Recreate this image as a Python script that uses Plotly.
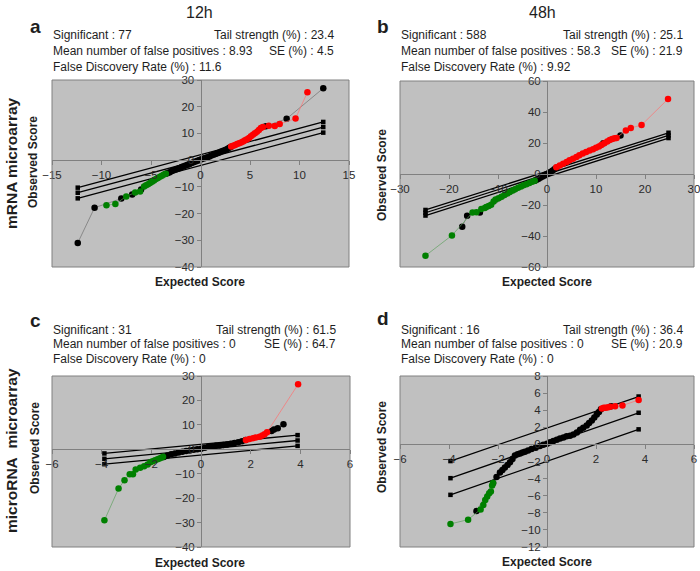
import plotly.graph_objects as go

W, H = 700, 571

# ---- panel a : mRNA 12h ----
a_black_x = [-12.4, -10.7, -8.0, -6.9, -6.0,
             -3.5, -3.3, -3.1, -2.9, -2.7, -2.5, -2.3, -2.1, -1.9, -1.7, -1.5, -1.3, -1.1, -0.9, -0.7, -0.5, -0.3, -0.1,
             0.1, 0.3, 0.5, 0.7, 0.9, 1.1, 1.3, 1.5, 1.7, 1.9, 2.1, 2.3, 2.5, 2.7, 2.9, 3.1,
             6.6, 8.7, 12.4]
a_black_y = [-31.0, -17.8, -14.4, -12.9, -11.0,
             -5.1, -4.8, -4.5, -4.1, -3.8, -3.5, -3.2, -2.9, -2.6, -2.3, -2.0, -1.7, -1.4, -1.1, -0.8, -0.5, -0.2, 0.1,
             0.3, 0.6, 0.8, 1.1, 1.4, 1.7, 2.0, 2.3, 2.6, 2.9, 3.2, 3.5, 3.8, 4.2, 4.6, 5.0,
             12.7, 15.5, 26.9]
a_green_x = [-9.5, -8.6, -7.5, -6.6, -6.1, -5.7, -5.5, -5.3, -5.1, -4.9, -4.7, -4.5, -4.3, -4.1, -3.9, -3.7, -3.5]
a_green_y = [-16.9, -16.4, -13.6, -12.1, -11.7, -9.9, -9.4, -9.0, -8.6, -8.1, -7.6, -7.1, -6.7, -6.2, -5.8, -5.4, -5.1]
a_red_x = [3.1, 3.3, 3.5, 3.7, 3.9, 4.1, 4.3, 4.5, 4.7, 4.9, 5.1, 5.3, 5.5, 5.7, 5.9, 6.1, 6.3, 6.9, 7.5, 8.0, 9.6, 10.8]
a_red_y = [5.1, 5.4, 5.7, 6.0, 6.3, 6.6, 7.0, 7.4, 7.8, 8.3, 8.9, 9.5, 10.1, 10.6, 11.3, 12.0, 12.4, 12.9, 12.8, 13.5, 15.6, 25.4]
a_delta_x = [-12.4, 12.4]
a_delta_upper = [-10.3, 14.3]
a_delta_mid = [-12.2, 12.4]
a_delta_lower = [-14.3, 10.3]

# ---- panel b : mRNA 48h ----
b_black_x = [-17.3, -16.3, -13.7, -2.5, -2.1, -1.7, -1.3, -0.9, -0.5, -0.1, 0.3, 0.7, 1.1, 1.5, 1.9, 11.5, 15.0]
b_black_y = [-34.1, -27.0, -24.8, -4.4, -3.7, -3.0, -2.3, -1.6, -0.9, -0.2, 0.5, 1.3, 2.1, 3.0, 4.0, 19.8, 24.8]
b_green_x = [-24.8, -19.4, -15.2, -14.4, -13.4, -12.7, -12.4, -11.9, -11.4, -10.9, -10.5, -9.9, -9.3, -8.7,
             -8.1, -7.6, -7.0, -6.5, -5.9, -5.3, -4.8, -4.2, -3.6, -3.0, -2.5]
b_green_y = [-52.7, -39.6, -24.8, -24.6, -22.6, -22.0, -21.3, -20.6, -19.8, -17.8, -16.5, -15.6, -14.7, -13.5,
             -12.5, -11.6, -10.6, -9.8, -8.8, -8.0, -7.3, -6.6, -5.8, -5.0, -4.4]
b_red_x = [1.9, 2.6, 3.3, 4.0, 4.6, 5.3, 6.0, 6.6, 7.3, 8.0, 8.7, 9.4, 10.0, 10.6, 11.1, 11.7, 12.3, 12.8,
           13.3, 13.8, 14.2, 16.1, 17.1, 19.3, 24.7]
b_red_y = [4.4, 5.5, 6.6, 7.7, 8.8, 9.9, 11.0, 12.1, 13.2, 14.2, 15.1, 16.0, 17.0, 17.8, 18.7, 19.8, 21.0, 22.0,
           22.6, 23.1, 23.3, 28.1, 29.7, 31.6, 48.4]
b_delta_x = [-24.8, 24.8]
b_delta_upper = [-23.2, 26.6]
b_delta_mid = [-25.0, 24.9]
b_delta_lower = [-26.8, 23.2]

# ---- panel c : microRNA 12h ----
c_black_x = [-1.5, -1.35, -1.2, -1.05, -0.9, -0.75, -0.6, -0.45, -0.3, -0.15, 0.0, 0.15, 0.3, 0.45, 0.6, 0.75,
             0.9, 1.05, 1.2, 1.35, 1.5, 1.65, 1.8, 2.84, 2.94, 3.09, 3.32]
c_black_y = [-3.2, -2.5, -2.0, -1.7, -1.3, -1.0, -0.7, -0.45, -0.2, 0.0, 0.2, 0.6, 1.0, 1.25, 1.45, 1.6,
             1.8, 2.0, 2.3, 2.6, 2.9, 3.3, 3.8, 7.5, 8.1, 8.6, 10.2]
c_green_x = [-3.89, -3.32, -3.08, -2.87, -2.74, -2.63, -2.45, -2.29, -2.15, -2.04, -1.95, -1.85, -1.75, -1.67, -1.6, -1.53]
c_green_y = [-29.1, -16.1, -12.7, -10.2, -10.2, -8.3, -7.6, -6.9, -6.2, -5.3, -4.9, -4.5, -4.1, -3.8, -3.5, -3.1]
c_red_x = [1.81, 1.95, 2.09, 2.2, 2.36, 2.47, 2.56, 2.66, 3.91]
c_red_y = [3.8, 4.2, 4.5, 4.8, 5.1, 5.6, 6.2, 7.0, 26.6]
c_delta_x = [-3.89, 3.89]
c_delta_upper = [-1.7, 5.8]
c_delta_mid = [-3.9, 3.6]
c_delta_lower = [-6.1, 1.4]

# ---- panel d : microRNA 48h ----
d_black_x = [-2.88, -2.2, -2.06, -1.92, -1.82, -1.72, -1.61, -1.51, -1.41, -1.31, -1.2, -1.1, -1.0, -0.9,
             -0.77, -0.63, -0.46, -0.29, -0.15, 0.0, 0.13, 0.26, 0.4, 0.53, 0.67, 0.8, 0.94, 1.08, 1.22,
             1.35, 1.48, 1.62, 1.72, 1.83, 1.93, 2.03, 2.12, 2.2, 2.62]
d_black_y = [-7.8, -4.5, -3.8, -3.3, -3.0, -2.7, -2.4, -2.1, -1.7, -1.3, -1.15, -1.05, -0.95, -0.86,
             -0.7, -0.55, -0.38, -0.2, -0.05, 0.08, 0.25, 0.4, 0.55, 0.7, 0.82, 0.94, 1.0, 1.17, 1.4,
             1.7, 1.95, 2.2, 2.5, 2.8, 3.15, 3.5, 3.8, 4.1, 4.45]
d_green_x = [-3.94, -3.22, -2.71, -2.6, -2.52, -2.44, -2.36, -2.29, -2.24, -2.2]
d_green_y = [-9.3, -8.8, -7.6, -7.1, -6.5, -6.1, -5.7, -5.5, -4.8, -4.5]
d_red_x = [2.24, 2.32, 2.4, 2.5, 2.58, 2.78, 3.08, 3.74]
d_red_y = [4.2, 4.3, 4.3, 4.35, 4.4, 4.45, 4.55, 5.2]
d_delta_x = [-3.94, 3.74]
d_delta_upper = [-1.95, 5.6]
d_delta_mid = [-3.95, 3.7]
d_delta_lower = [-5.9, 1.76]

# stats text per panel
stats = {
    "a": ["Significant : 77", "Tail strength (%) : 23.4", "Mean number of false positives : 8.93", "SE (%) : 4.5",
          "False Discovery Rate (%) : 11.6"],
    "b": ["Significant : 588", "Tail strength (%) : 25.1", "Mean number of false positives : 58.3", "SE (%) : 21.9",
          "False Discovery Rate (%) : 9.92"],
    "c": ["Significant : 31", "Tail strength (%) : 61.5", "Mean number of false positives : 0", "SE (%) : 64.7",
          "False Discovery Rate (%) : 0"],
    "d": ["Significant : 16", "Tail strength (%) : 36.4", "Mean number of false positives : 0", "SE (%) : 20.9",
          "False Discovery Rate (%) : 0"],
}

fig = go.Figure()
TXT = "#1e1e1e"
AX = "#808080"


def ann(text, x, y, size=12, bold=False, xa="left", ya="middle", angle=0, family="Arial"):
    if bold:
        text = "<b>" + text + "</b>"
    fig.add_annotation(text=text, x=x / W, y=1 - y / H, xref="paper", yref="paper", showarrow=False,
                       xanchor=xa, yanchor=ya, textangle=angle,
                       font=dict(family=family, size=size, color=TXT))


def add_panel(i, box, xr, yr, dx, dy, dlx, dls, black, green, red):
    s = "" if i == 1 else str(i)
    left, top, right, bottom = box
    xdom = [left / W, right / W]
    ydom = [1 - bottom / H, 1 - top / H]
    xpos = xdom[0] + (0 - xr[0]) / (xr[1] - xr[0]) * (xdom[1] - xdom[0])
    ypos = ydom[0] + (0 - yr[0]) / (yr[1] - yr[0]) * (ydom[1] - ydom[0])
    common = dict(showgrid=False, zeroline=False, showline=True, linecolor=AX, linewidth=1,
                  ticks="outside", ticklen=4, tickcolor=AX, automargin=False, ticklabeloverflow="allow",
                  tickfont=dict(family="Arial", size=11.5, color="#2a2a2a"), fixedrange=True)
    fig.update_layout(**{
        "xaxis" + s: dict(domain=xdom, range=xr, dtick=dx, tick0=0, anchor="free", position=ypos, **common),
        "yaxis" + s: dict(domain=ydom, range=yr, dtick=dy, tick0=0, anchor="free", position=xpos, **common),
    })
    xa, ya = "x" + s, "y" + s
    for dl in dls:
        fig.add_trace(go.Scatter(x=dlx, y=dl, mode="lines+markers", xaxis=xa, yaxis=ya,
                                 line=dict(color="black", width=1.3),
                                 marker=dict(symbol="square", size=4.5, color="black")))
    for (sx, sy), mc, lc in [(black, "black", "#707070"), (green, "#008000", "#60a060"), (red, "#ff0000", "#ff7070")]:
        fig.add_trace(go.Scatter(x=sx, y=sy, mode="lines+markers", xaxis=xa, yaxis=ya,
                                 line=dict(color=lc, width=0.7),
                                 marker=dict(size=6.5, color=mc, line=dict(width=0))))
    fig.add_shape(type="rect", xref=xa + " domain", yref=ya + " domain", x0=0, x1=1, y0=0, y1=1,
                  line=dict(color=AX, width=1))


add_panel(1, (52, 80, 349, 267), [-15, 15], [-40, 30], 5, 10,
          a_delta_x, [a_delta_upper, a_delta_mid, a_delta_lower],
          (a_black_x, a_black_y), (a_green_x, a_green_y), (a_red_x, a_red_y))
add_panel(2, (400, 81, 694, 267), [-30, 30], [-60, 60], 10, 20,
          b_delta_x, [b_delta_upper, b_delta_mid, b_delta_lower],
          (b_black_x, b_black_y), (b_green_x, b_green_y), (b_red_x, b_red_y))
add_panel(3, (52, 376, 350, 547), [-6, 6], [-40, 30], 2, 10,
          c_delta_x, [c_delta_upper, c_delta_mid, c_delta_lower],
          (c_black_x, c_black_y), (c_green_x, c_green_y), (c_red_x, c_red_y))
add_panel(4, (400, 376, 694, 547), [-6, 6], [-12, 8], 2, 2,
          d_delta_x, [d_delta_upper, d_delta_mid, d_delta_lower],
          (d_black_x, d_black_y), (d_green_x, d_green_y), (d_red_x, d_red_y))

# stats blocks
for key, lx, rx, ys in [("a", 51, 336, (35, 51, 67)), ("b", 399, 685, (35, 51, 67)),
                        ("c", 51, 338, (330, 344, 359)), ("d", 399, 685, (330, 344, 359))]:
    t = stats[key]
    ann(t[0], lx, ys[0])
    ann(t[1], rx, ys[0], xa="right")
    ann(t[2], lx, ys[1])
    ann(t[3], rx, ys[1], xa="right")
    ann(t[4], lx, ys[2])

# panel letters and column titles
ann("a", 35, 26, size=19, bold=True, xa="center")
ann("b", 383, 27, size=19, bold=True, xa="center")
ann("c", 35, 320, size=19, bold=True, xa="center")
ann("d", 383, 318, size=19, bold=True, xa="center")
ann("12h", 199, 13, size=16, xa="center")
ann("48h", 542, 13, size=16, xa="center")

# row labels
ann("mRNA microarray", 11, 163, size=15.5, bold=True, xa="center", angle=-90)
ann("microRNA\u00a0\u00a0microarray", 11, 451, size=15.5, bold=True, xa="center", angle=-90)

# axis titles
for cx, cy in [(200, 282), (547, 282), (200, 563), (547, 562)]:
    ann("Expected Score", cx, cy, size=12, bold=True, xa="center")
for cx, cy in [(33, 162), (382, 175), (35, 448), (382, 447)]:
    ann("Observed Score", cx, cy, size=12, bold=True, xa="center", angle=-90)

fig.update_layout(
    width=W, height=H,
    margin=dict(l=0, r=0, t=0, b=0),
    paper_bgcolor="white",
    plot_bgcolor="#c0c0c0",
    showlegend=False,
    hovermode=False,
)

# drop the default 8px page margin so the figure fills the window
fig.write_html("out.html", config={"displayModeBar": False},
               post_script="document.body.style.margin='0';")
